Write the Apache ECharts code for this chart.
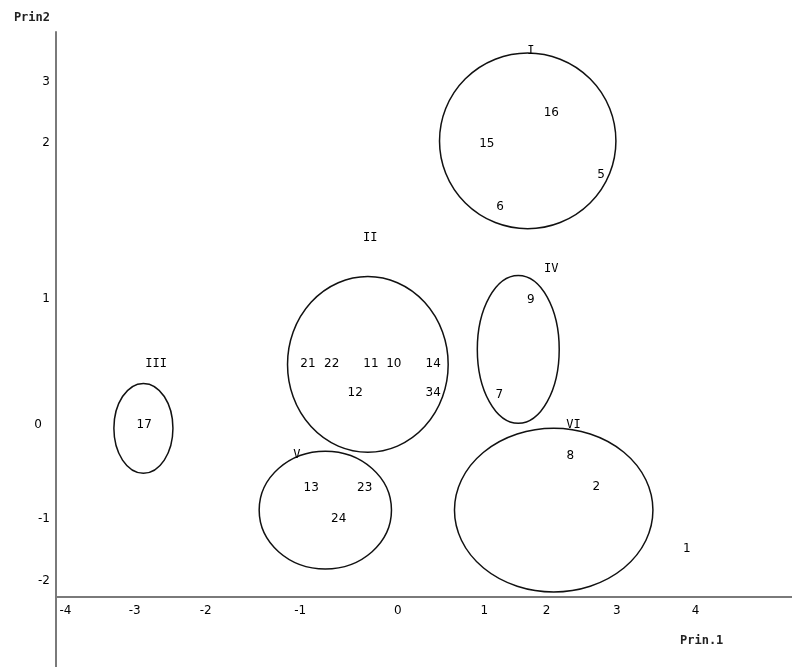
<!DOCTYPE html>
<html>
<head>
<meta charset="utf-8">
<script src="https://cdn.jsdelivr.net/npm/echarts@6/dist/echarts.min.js"></script>
<style>html,body{margin:0;padding:0;background:#fff;}#c{width:792px;height:667px;}</style>
</head>
<body>
<div id="c"></div>
<script>
// Tick positions (axis units) and their printed labels
const xTickValues = [-3.98, -3.10, -2.20, -1.00, 0.24, 1.34, 2.13, 3.02, 4.02];
const xTickLabels = ['-4', '-3', '-2', '-1', '0', '1', '2', '3', '4'];
const yTickValues = [2.99, 2.38, 0.82, -0.45, -1.39, -2.01];
const yTickLabels = ['3', '2', '1', '0', '-1', '-2'];

// Observations (labelled by number)
const pointIds = ['16', '15', '5', '6', '21', '22', '11', '10', '14', '12', '34', '9', '7', '8', '2', '1', '17', '13', '23', '24'];
const pointX = [2.19, 1.37, 2.82, 1.54, -0.90, -0.60, -0.10, 0.19, 0.69, -0.30, 0.69, 1.93, 1.53, 2.43, 2.76, 3.91, -2.98, -0.86, -0.18, -0.51];
const pointY = [2.68, 2.37, 2.06, 1.74, 0.17, 0.17, 0.17, 0.17, 0.17, -0.13, -0.13, 0.81, -0.15, -0.76, -1.07, -1.69, -0.45, -1.08, -1.08, -1.39];

// Cluster labels
const clusterNames = ['I', 'II', 'III', 'IV', 'V', 'VI'];
const clusterLabelX = [1.93, -0.11, -2.83, 2.19, -1.04, 2.47];
const clusterLabelY = [3.30, 1.43, 0.17, 1.12, -0.75, -0.45];

// Cluster ellipses: centre and radii in axis units
const ellipseCX = [1.89, -0.14, -2.99, 1.77, -0.68, 2.22];
const ellipseCY = [2.40, 0.16, -0.48, 0.31, -1.30, -1.30];
const ellipseRX = [1.12, 1.02, 0.375, 0.52, 0.84, 1.26];
const ellipseRY = [0.88, 0.88, 0.45, 0.74, 0.59, 0.82];

function lookup(values, labels, v) {
  let best = 0, bd = Infinity;
  values.forEach((t, i) => { const d = Math.abs(t - v); if (d < bd) { bd = d; best = i; } });
  return labels[best];
}

const chart = echarts.init(document.getElementById('c'), null, { renderer: 'canvas' });

const textLabel = (family) => ({
  show: true, position: 'inside', formatter: p => p.name,
  color: '#000', opacity: 1, fontFamily: family, fontSize: 12,
  textBorderWidth: 0, textBorderColor: 'transparent', textShadowBlur: 0
});

const option = {
  animation: false,
  backgroundColor: '#fff',
  grid: { left: 56, right: 0, top: 32, bottom: 0, containLabel: false },
  xAxis: {
    type: 'value', min: -4.1, max: 5.246, offset: -70,
    axisLine: { show: true, onZero: false, lineStyle: { color: '#7a7a7a', width: 2 } },
    axisTick: { show: false },
    splitLine: { show: false },
    axisLabel: {
      customValues: xTickValues, margin: 8,
      color: '#000', fontFamily: 'DejaVu Sans', fontSize: 12,
      formatter: v => lookup(xTickValues, xTickLabels, v)
    }
  },
  yAxis: {
    type: 'value', min: -2.872, max: 3.491,
    name: 'Prin2', nameLocation: 'end', nameGap: 8,
    nameTextStyle: { align: 'right', padding: [0, 6, 0, 0], color: '#222', fontFamily: 'DejaVu Sans Mono', fontWeight: 'bold', fontSize: 12 },
    axisLine: { show: true, onZero: false, lineStyle: { color: '#7a7a7a', width: 2 } },
    axisTick: { show: false },
    splitLine: { show: false },
    axisLabel: {
      customValues: yTickValues, margin: 6,
      color: '#000', fontFamily: 'DejaVu Sans', fontSize: 12,
      formatter: v => { const s = lookup(yTickValues, yTickLabels, v); return s === '0' ? '{z|0}' : s; },
      rich: { z: { padding: [0, 8, 0, 0], color: '#000', fontFamily: 'DejaVu Sans', fontSize: 12 } }
    }
  },
  graphic: [
    { type: 'text', left: 680, top: 635, style: { text: 'Prin.1', fill: '#222', font: 'bold 12px "DejaVu Sans Mono"' } }
  ],
  series: [
    {
      type: 'custom',
      silent: true,
      data: ellipseCX.map((cx, i) => [cx, ellipseCY[i], ellipseRX[i], ellipseRY[i]]),
      encode: { x: 0, y: 1 },
      renderItem: function (params, api) {
        const c = api.coord([api.value(0), api.value(1)]);
        const s = api.size([api.value(2), api.value(3)]);
        return {
          type: 'path',
          shape: {
            pathData: 'M0,1 A1,1 0 1,1 2,1 A1,1 0 1,1 0,1 Z',
            x: c[0] - s[0], y: c[1] - s[1], width: 2 * s[0], height: 2 * s[1], layout: 'cover'
          },
          style: { fill: 'none', stroke: '#111', lineWidth: 1.5 }
        };
      },
      z: 2
    },
    {
      type: 'scatter',
      symbol: 'circle', symbolSize: 1,
      itemStyle: { color: '#fff', opacity: 1 },
      data: pointIds.map((id, i) => ({ name: id, value: [pointX[i], pointY[i]] })),
      label: textLabel('DejaVu Sans'),
      z: 3
    },
    {
      type: 'scatter',
      symbol: 'circle', symbolSize: 1,
      itemStyle: { color: '#fff', opacity: 1 },
      data: clusterNames.map((n, i) => ({ name: n, value: [clusterLabelX[i], clusterLabelY[i]] })),
      label: textLabel('DejaVu Sans Mono'),
      z: 4
    }
  ]
};
chart.setOption(option);
</script>
</body>
</html>
